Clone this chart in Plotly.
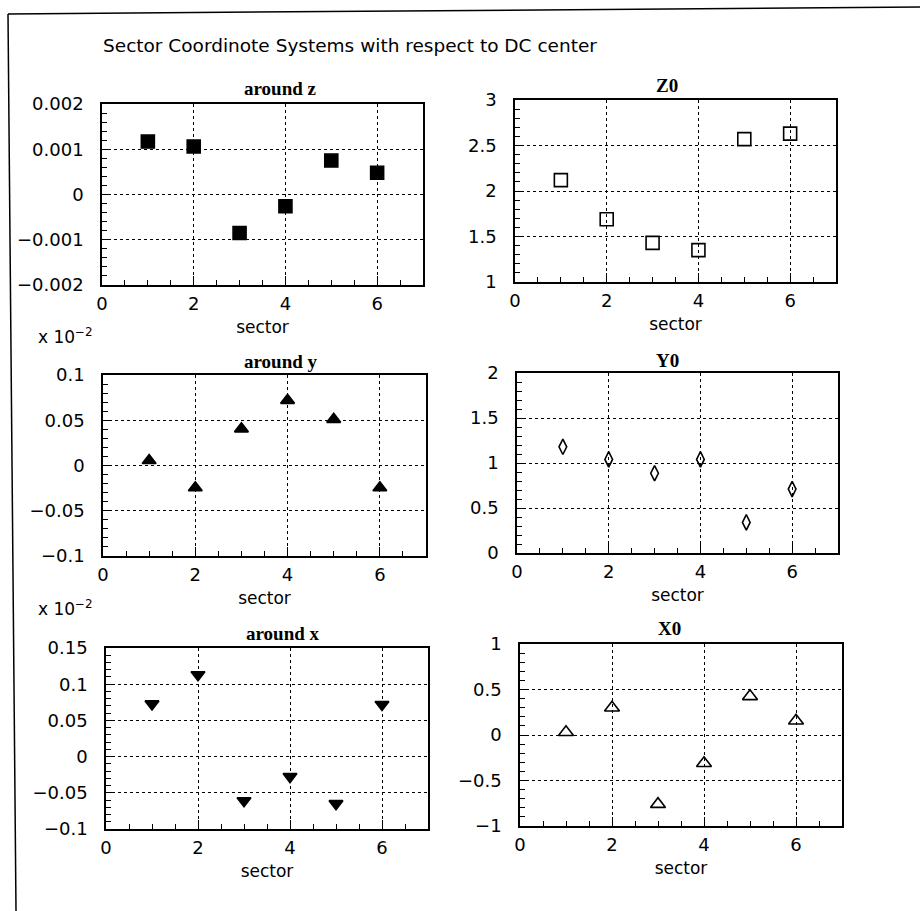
import plotly.graph_objects as go

sectors = [1, 2, 3, 4, 5, 6]

around_z = [0.00117, 0.00106, -0.00085, -0.00026, 0.00075, 0.00048]
z0 = [2.12, 1.69, 1.43, 1.35, 2.57, 2.63]
around_y = [0.0055, -0.0246, 0.0405, 0.072, 0.051, -0.0246]   # x 10^-2
y0 = [1.18, 1.04, 0.886, 1.04, 0.34, 0.71]
around_x = [0.0728, 0.113, -0.061, -0.0276, -0.065, 0.072]    # x 10^-2
x0 = [0.03, 0.30, -0.76, -0.31, 0.425, 0.157]

x_ticks = [0, 2, 4, 6]
x_ticklabels = ["0", "2", "4", "6"]

yt_z = [-0.002, -0.001, 0, 0.001, 0.002]
yl_z = ["\u22120.002", "\u22120.001", "0", "0.001", "0.002"]
yt_z0 = [1, 1.5, 2, 2.5, 3]
yl_z0 = ["1", "1.5", "2", "2.5", "3"]
yt_y = [-0.1, -0.05, 0, 0.05, 0.1]
yl_y = ["\u22120.1", "\u22120.05", "0", "0.05", "0.1"]
yt_y0 = [0, 0.5, 1, 1.5, 2]
yl_y0 = ["0", "0.5", "1", "1.5", "2"]
yt_x = [-0.1, -0.05, 0, 0.05, 0.1, 0.15]
yl_x = ["\u22120.1", "\u22120.05", "0", "0.05", "0.1", "0.15"]
yt_x0 = [-1, -0.5, 0, 0.5, 1]
yl_x0 = ["\u22121", "\u22120.5", "0", "0.5", "1"]

titles = ["around z", "Z0", "around y", "Y0", "around x", "X0"]
x_title = "sector"
scale_label = "x 10<sup>\u22122</sup>"
main_title = "Sector Coordinote Systems with respect to DC center"

W, H = 920, 911
boxes = [
    (102, 423, 104, 285),
    (515, 836, 100, 282),
    (103, 426, 375, 556),
    (517, 838, 373, 553),
    (106, 428, 648, 829),
    (520, 842, 644, 826),
]
title_pos = [(280, 89), (667, 86), (281, 361), (667, 360), (283, 633), (669, 628)]

panels = [
    (around_z, "square", yt_z, yl_z, [-0.002, 0.002], 0.0002, 13),
    (z0, "square-open", yt_z0, yl_z0, [1, 3], 0.1, 13),
    (around_y, "triangle-up", yt_y, yl_y, [-0.1, 0.1], 0.01, 12),
    (y0, "diamond-tall-open", yt_y0, yl_y0, [0, 2], 0.1, 11),
    (around_x, "triangle-down", yt_x, yl_x, [-0.1, 0.15], 0.01, 12),
    (x0, "triangle-up-open", yt_x0, yl_x0, [-1, 1], 0.1, 13),
]

fig = go.Figure()
font_sans = "DejaVu Sans, Verdana, sans-serif"
font_serif = "Liberation Serif, Times New Roman, serif"

annotations = []
for i, (vals, sym, yt, yl, yr, ymin, msize) in enumerate(panels):
    n = i + 1
    xa = "x" if n == 1 else f"x{n}"
    ya = "y" if n == 1 else f"y{n}"
    fig.add_trace(go.Scatter(
        x=sectors, y=vals, mode="markers", xaxis=xa, yaxis=ya,
        marker=dict(symbol=sym, size=msize, color="black",
                    line=dict(color="black", width=1.6)),
        showlegend=False, hoverinfo="skip",
    ))
    l, r, t, b = boxes[i]
    xd = [l / W, r / W]
    yd = [1 - b / H, 1 - t / H]
    common = dict(
        showline=True, linecolor="black", linewidth=1.6, mirror=True,
        ticks="inside", ticklen=9, tickcolor="black", tickwidth=1.2,
        showgrid=True, gridcolor="black", gridwidth=1, griddash="dot",
        zeroline=False, automargin=False,
        tickfont=dict(family=font_sans, size=18, color="black"),
    )
    fig.layout[("xaxis" if n == 1 else f"xaxis{n}")] = dict(
        domain=xd, anchor=ya, range=[0, 7],
        tickvals=x_ticks, ticktext=x_ticklabels,
        minor=dict(dtick=0.5, tick0=0, ticks="inside", ticklen=5,
                   tickcolor="black", showgrid=False),
        title=dict(text=x_title, font=dict(family=font_sans, size=17, color="black"),
                   standoff=8),
        ticklabelstandoff=2,
        **common,
    )
    fig.layout[("yaxis" if n == 1 else f"yaxis{n}")] = dict(
        domain=yd, anchor=xa, range=yr,
        tickvals=yt, ticktext=yl,
        minor=dict(dtick=ymin, tick0=0, ticks="inside", ticklen=5,
                   tickcolor="black", showgrid=False),
        ticklabelstandoff=13,
        **common,
    )
    tx, ty = title_pos[i]
    annotations.append(dict(
        text=f"<b>{titles[i]}</b>", x=tx / W, y=1 - ty / H,
        xref="paper", yref="paper", showarrow=False, xanchor="center", yanchor="middle",
        font=dict(family=font_serif, size=19, color="black"),
    ))

for ypix in [336, 608]:
    annotations.append(dict(
        text=scale_label, x=36 / W, y=1 - ypix / H, xref="paper", yref="paper",
        showarrow=False, xanchor="left", yanchor="middle",
        font=dict(family=font_sans, size=17, color="black"),
    ))

annotations.append(dict(
    text=main_title,
    x=101 / W, y=1 - 46 / H, xref="paper", yref="paper", showarrow=False,
    xanchor="left", yanchor="middle",
    font=dict(family=font_sans, size=18.5, color="black"),
))

shapes = [
    dict(type="line", xref="paper", yref="paper", x0=8 / W, x1=1, y0=1 - 14 / H, y1=1 - 7 / H,
         line=dict(color="black", width=1.5)),
    dict(type="line", xref="paper", yref="paper", x0=8 / W, x1=16 / W, y0=1 - 14 / H, y1=0,
         line=dict(color="black", width=1.5)),
]

fig.update_layout(
    width=W, height=H, margin=dict(l=0, r=0, t=0, b=0, pad=0, autoexpand=False),
    paper_bgcolor="white", plot_bgcolor="white",
    annotations=annotations, shapes=shapes, hovermode=False,
)

fig.write_html(
    "out.html",
    config={"displayModeBar": False},
    post_script="document.body.style.margin='0';document.body.style.overflow='hidden';",
)
